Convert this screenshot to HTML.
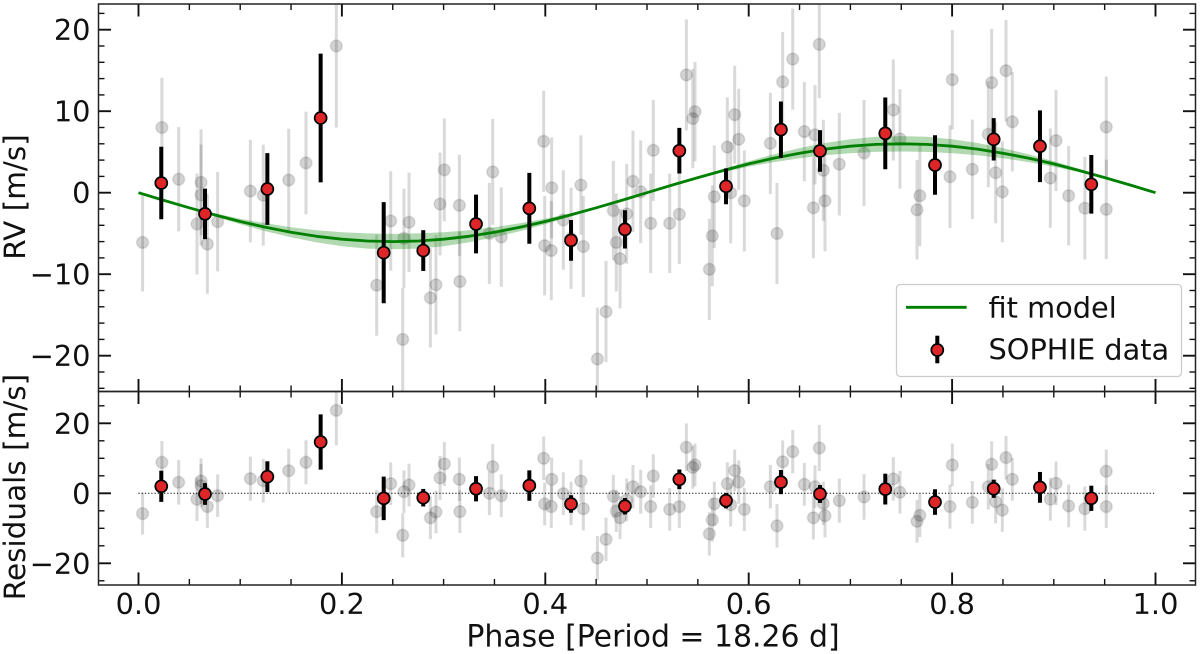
<!DOCTYPE html>
<html>
<head>
<meta charset="utf-8">
<title>RV phase-folded chart</title>
<style>
html,body{margin:0;padding:0;background:#fff;width:1200px;height:654px;overflow:hidden}
svg{display:block;filter:blur(0.3px)}
text{font-family:"DejaVu Sans","Liberation Sans",sans-serif;fill:#111}
</style>
</head>
<body>
<svg id="chart" xmlns="http://www.w3.org/2000/svg" width="1200" height="654" viewBox="0 0 1200 654">
  <defs>
    <clipPath id="clip-top"><rect x="98.5" y="4" width="1097" height="387.5"/></clipPath>
    <clipPath id="clip-bottom"><rect x="98.5" y="391.5" width="1097" height="193.5"/></clipPath>
  </defs>
  <g id="top-panel"></g>
  <g id="bottom-panel"></g>
  <g id="axes-layer"></g>
  <g id="legend">
    <rect x="896.5" y="284.5" width="285" height="92" rx="4" ry="4" fill="#fff" fill-opacity="0.8" stroke="#ccc" stroke-width="1.3"/>
    <line x1="906" y1="307.3" x2="966.7" y2="307.3" stroke="#008000" stroke-width="2.8"/>
    <text x="988.5" y="317.5" font-size="28.8">fit model</text>
    <line x1="937.3" y1="335.7" x2="937.3" y2="363.3" stroke="#000" stroke-width="4"/>
    <circle cx="937.3" cy="350" r="6" fill="#de2528" stroke="#000" stroke-width="1.7"/>
    <text x="988.5" y="359.5" font-size="28.8">SOPHIE data</text>
  </g>
  <text x="653" y="646.5" font-size="29.9" text-anchor="middle">Phase [Period = 18.26 d]</text>
  <text transform="translate(25,197) rotate(-90)" font-size="29.5" text-anchor="middle">RV [m/s]</text>
  <text transform="translate(25,487) rotate(-90)" font-size="29.5" text-anchor="middle">Residuals [m/s]</text>
</svg>
<script>
// SOPHIE individual measurements (grey)
var grayPhase = [.004,.023,.0395,.0615,.0615,.0575,.0677,.0778,.110,.1227,.1477,.1647,.1945,.2342,.248,.2598,.261,.266,.2965,.3155,.3007,.287,.2925,.316,.3483,.345,.3567,.3984,.4063,.3994,.4059,.435,.4177,.4253,.4374,.4512,.4597,.4669,.4698,.4735,.48,.4862,.4938,.5036,.5062,.5223,.5318,.5387,.545,.5472,.5662,.5642,.5613,.579,.5823,.5862,.5902,.5957,.6213,.6334,.6278,.6433,.6547,.6652,.6694,.6636,.6734,.675,.6891,.7134,.7422,.7487,.7683,.7655,.7979,.8002,.8199,.8356,.8389,.8428,.8494,.853,.8592,.8966,.9022,.9146,.9305,.9516,.9516];
var grayRV = [-6.1,8.0,1.65,1.28,-.28,-3.84,-6.3,-3.55,.2,-.3,1.55,3.65,18.0,-11.35,-3.47,-18,-5.6,-3.63,-1.39,-1.55,2.8,-12.9,-11.3,-10.9,2.55,-5,-5.44,6.3,.6,-6.5,-7.1,.94,-3.35,-5.6,-6.6,-20.4,-14.6,-2.2,-6.1,-8.1,-2.6,1.4,.12,-3.76,5.2,-3.76,-2.65,14.45,9.1,9.95,-.5,-5.3,-9.4,5.6,0,9.57,6.55,-1,6.06,13.6,-5,16.4,7.5,7.1,18.2,-1.85,2.75,-1,3.5,4.87,10.15,6.6,-.37,-2.1,1.96,13.87,2.87,7.17,13.5,2.45,.1,14.97,8.7,1.8,6.4,-.37,-1.9,8.06,-2.04];
var grayErr = [6.0,6.1,6.4,6.5,6.2,6.2,6.1,6.1,6.3,6.2,6.3,6.3,10,6.2,6.1,6.3,6.1,6.1,6.3,6.2,6.3,6.1,6.1,6.1,6.5,6.2,6.1,6.2,6.2,6.1,6.1,6.1,6.1,6.2,6.2,6.3,6.2,6.1,6,6.1,6.1,6.2,6.3,6.1,6.2,6.1,6.1,6.8,6.1,6.1,6.3,6.2,6.2,6.1,6.2,6,6.2,6.2,6.2,6.1,6.2,6.2,6.1,6.1,6.6,6.2,6.2,6.2,6.3,6.5,6.2,6.1,6.2,6.1,6.3,6.1,6.1,6.5,6.6,6.2,6.2,6.2,6.1,6.1,6.2,6.1,6.3,6.2,6.1];
var grayRes = [-5.8,8.85,3.15,3.5,2.2,-1.7,-3.8,-.7,4.2,3.6,6.45,8.85,23.7,-5.25,2.75,-12,.45,2.37,4.4,4.0,8.4,-7,-5.35,-5.25,7.6,0,-.7,10,4,-3.05,-3.8,3.5,-.1,-2.9,-4.4,-18.5,-13.15,-.85,-5.05,-7,-1.9,1.9,.45,-3.8,4.95,-4.6,-3.8,13.15,7.4,8.1,-3.0,-7.6,-11.6,2.75,-3.3,6.5,3.2,-4.6,1.9,9,-9.3,11.9,2.55,1.9,12.95,-7,-2.9,-6.4,-2.1,-1.05,4.1,.3,-6.3,-8,-3.8,8.1,-2.6,1.9,8.3,-2.4,-4.8,10.2,4,-1.7,2.85,-3.6,-4.4,6.3,-3.8];
// Binned points (red)
var binPhase = [.0224,.0654,.1267,.1791,.2411,.28,.3319,.3843,.4253,.4783,.5318,.5777,.6317,.6701,.7343,.7832,.8409,.8864,.9369];
var binRV = [1.19,-2.6,.45,9.17,-7.36,-7.1,-3.84,-1.92,-5.85,-4.5,5.15,.78,7.74,5.12,7.28,3.4,6.55,5.7,1.03];
var binErr = [4.45,3.1,4.4,7.9,6.2,2.5,3.6,4.35,2.5,2.35,2.8,2.2,3.45,2.55,4.4,3.65,2.6,4.4,3.6];
var binRes = [2.0,-.2,4.75,14.65,-1.45,-1.25,1.3,2.2,-3.05,-3.7,4.0,-2.1,3.2,-.2,1.2,-2.5,1.3,1.7,-1.43];
// Fit model curve and credible-band half width, sampled along phase
var curvePhase = [0,.025,.05,.075,.1,.125,.15,.175,.2,.225,.25,.275,.3,.325,.35,.375,.4,.425,.45,.475,.5,.525,.55,.575,.6,.625,.65,.675,.7,.725,.75,.775,.8,.825,.85,.875,.9,.925,.95,.975,1];
var curveRV = [0,-.94,-1.85,-2.72,-3.53,-4.24,-4.85,-5.35,-5.71,-5.93,-6,-5.93,-5.71,-5.35,-4.85,-4.24,-3.53,-2.72,-1.85,-.94,0,.94,1.85,2.72,3.53,4.24,4.85,5.35,5.71,5.93,6,5.93,5.71,5.35,4.85,4.24,3.53,2.72,1.85,.94,0];
var bandHalf = [0,.02,.09,.2,.33,.48,.62,.75,.86,.93,.95,.93,.86,.75,.62,.48,.33,.2,.09,.02,0,.02,.09,.2,.33,.48,.62,.75,.86,.93,.95,.93,.86,.75,.62,.48,.33,.2,.09,.02,0];
// Tick labels
var xTickValues = [0,.2,.4,.6,.8,1];
var xTickLabels = ["0.0","0.2","0.4","0.6","0.8","1.0"];
var xMinorValues = [.05,.1,.15,.25,.3,.35,.45,.5,.55,.65,.7,.75,.85,.9,.95];
var rvTickValues = [20,10,0,-10,-20];
var rvTickLabels = ["20","10","0","\u221210","\u221220"];
var rvMinorValues = [22,18,16,14,12,8,6,4,2,-2,-4,-6,-8,-12,-14,-16,-18,-22,-24];
var resTickValues = [20,0,-20];
var resTickLabels = ["20","0","\u221220"];
var resMinorValues = [25,15,10,5,-5,-10,-15,-25];

var NS = 'http://www.w3.org/2000/svg';
var L = 98.5, R = 1195.5, T1 = 4, B1 = 391.5, T2 = 391.5, B2 = 585;
function xScale(p){ return 138.5 + 1017 * p; }
function yTop(v){ return 192.7 - 8.15 * v; }
function yBot(v){ return 493.3 - 3.5 * v; }
function mk(tag, parent, attrs){
  var el = document.createElementNS(NS, tag);
  for (var k in attrs) el.setAttribute(k, attrs[k]);
  parent.appendChild(el);
  return el;
}

function drawGray(parent, yFn, values, tag){
  var g = mk('g', parent, {});
  
  
  for (var i = 0; i < grayPhase.length; i++){
    var x = xScale(grayPhase[i]), v = values[i], e = grayErr[i];
    var bar = mk('line', g, {x1:x, x2:x, y1:yFn(v + e), y2:yFn(v - e), stroke:'#000', 'stroke-opacity':.15, 'stroke-width':3});
    
    
    var c = mk('circle', g, {cx:x, cy:yFn(v), r:5.9, fill:'#000', 'fill-opacity':.17, stroke:'#000', 'stroke-opacity':.1, 'stroke-width':1.6});
    
    
  }
}
function drawBins(parent, yFn, values, tag){
  var g = mk('g', parent, {});
  
  
  for (var i = 0; i < binPhase.length; i++){
    var x = xScale(binPhase[i]), v = values[i], e = binErr[i];
    var bar = mk('line', g, {x1:x, x2:x, y1:yFn(v + e), y2:yFn(v - e), stroke:'#000', 'stroke-width':4});
    
    
    var c = mk('circle', g, {cx:x, cy:yFn(v), r:6, fill:'#de2528', stroke:'#000', 'stroke-width':1.7});
    
    
  }
}

var top_ = document.getElementById('top-panel');
top_.setAttribute('clip-path', 'url(#clip-top)');
var bot_ = document.getElementById('bottom-panel');
bot_.setAttribute('clip-path', 'url(#clip-bottom)');

drawGray(top_, yTop, grayRV, 'rv');

// Band
var upper = [], lower = [], line = [];
for (var i = 0; i < curvePhase.length; i++){
  var cx = xScale(curvePhase[i]);
  upper.push(cx.toFixed(1) + ',' + yTop(curveRV[i] + bandHalf[i]).toFixed(1));
  lower.unshift(cx.toFixed(1) + ',' + yTop(curveRV[i] - bandHalf[i]).toFixed(1));
  line.push(cx.toFixed(1) + ',' + yTop(curveRV[i]).toFixed(1));
}
var band = mk('polygon', top_, {points:upper.concat(lower).join(' '), fill:'#008000', 'fill-opacity':.3});


var fit = mk('polyline', top_, {points:line.join(' '), fill:'none', stroke:'#008000', 'stroke-width':2.8, 'stroke-linejoin':'round'});



drawBins(top_, yTop, binRV, 'rv');

drawGray(bot_, yBot, grayRes, 'residual');
var zero = mk('line', bot_, {x1:xScale(0), x2:xScale(1), y1:yBot(0), y2:yBot(0), stroke:'#000', 'stroke-width':1, 'stroke-dasharray':'1.2 2'});


drawBins(bot_, yBot, binRes, 'residual');

// Axes
var ax = document.getElementById('axes-layer');
function tick(x1, y1, x2, y2, w, name){
  var t = mk('line', ax, {x1:x1, y1:y1, x2:x2, y2:y2, stroke:'#111', 'stroke-width':w});
  
  
}
function panelTicks(top, bottom, yFn, majors, labels, minors, tag){
  var i;
  for (i = 0; i < xTickValues.length; i++){
    var mx = xScale(xTickValues[i]);
    tick(mx, top, mx, top + 12.5, 1.9, tag + '-x-major-tick-top');
    tick(mx, bottom, mx, bottom - 12.5, 1.9, tag + '-x-major-tick-bottom');
  }
  for (i = 0; i < xMinorValues.length; i++){
    var nx = xScale(xMinorValues[i]);
    tick(nx, top, nx, top + 6, 1.4, tag + '-x-minor-tick-top');
    tick(nx, bottom, nx, bottom - 6, 1.4, tag + '-x-minor-tick-bottom');
  }
  for (i = 0; i < majors.length; i++){
    var my = yFn(majors[i]);
    tick(L, my, L + 12.5, my, 1.9, tag + '-y-major-tick-left');
    tick(R, my, R - 12.5, my, 1.9, tag + '-y-major-tick-right');
    var t = mk('text', ax, {x:90.5, y:my + 10.5, 'font-size':28.8, 'text-anchor':'end'});
    t.textContent = labels[i];
    
    
  }
  for (i = 0; i < minors.length; i++){
    var ny = yFn(minors[i]);
    tick(L, ny, L + 6, ny, 1.4, tag + '-y-minor-tick-left');
    tick(R, ny, R - 6, ny, 1.4, tag + '-y-minor-tick-right');
  }
  var frame = mk('rect', ax, {x:L, y:top, width:R - L, height:bottom - top, fill:'none', stroke:'#222', 'stroke-width':1.5});
  
  
}
panelTicks(T1, B1, yTop, rvTickValues, rvTickLabels, rvMinorValues, 'rv');
panelTicks(T2, B2, yBot, resTickValues, resTickLabels, resMinorValues, 'residual');

for (var j = 0; j < xTickValues.length; j++){
  var lab = mk('text', ax, {x:xScale(xTickValues[j]), y:614, 'font-size':28.8, 'text-anchor':'middle'});
  lab.textContent = xTickLabels[j];
  
  
}
</script>
</body>
</html>
